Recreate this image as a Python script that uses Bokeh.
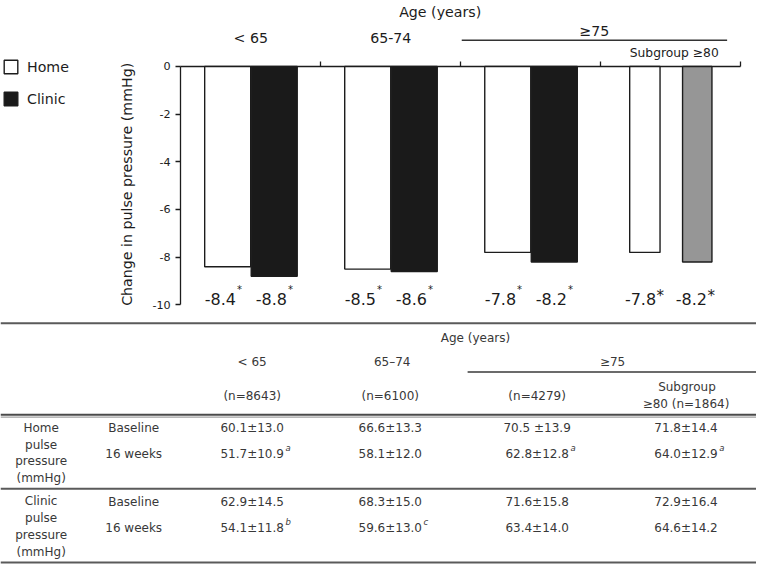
import math
from bokeh.plotting import figure
from bokeh.models import (Range1d, LinearAxis, FixedTicker, Legend, LegendItem,
                          ColumnDataSource)
from bokeh.core.properties import value
from bokeh.embed import file_html
from bokeh.resources import INLINE

# ---------------- data ----------------
groups = ["< 65", "65-74", "≥75", "Subgroup ≥80"]
home_change = [-8.4, -8.5, -7.8, -7.8]
clinic_change = [-8.8, -8.6, -8.2, -8.2]
home_labels = ["-8.4", "-8.5", "-7.8", "-7.8"]
clinic_labels = ["-8.8", "-8.6", "-8.2", "-8.2"]
mark_text = ["*", "*", "*", "*"]
mark_is_superscript = [True, True, True, False]
yticks = [0, -2, -4, -6, -8, -10]
ytick_labels = ["0", "-2", "-4", "-6", "-8", "-10"]
y_title = "Change in pulse pressure (mmHg)"
x_title = "Age (years)"

tbl_age_groups = ["< 65", "65–74", "≥75"]
tbl_n = ["(n=8643)", "(n=6100)", "(n=4279)"]
tbl_sub_head = ["Subgroup", "≥80 (n=1864)"]
tbl_time = ["Baseline", "16 weeks"]
tbl_home_label = ["Home", "pulse", "pressure", "(mmHg)"]
tbl_clinic_label = ["Clinic", "pulse", "pressure", "(mmHg)"]
home_baseline = ["60.1±13.0", "66.6±13.3", "70.5 ±13.9", "71.8±14.4"]
home_16w = ["51.7±10.9", "58.1±12.0", "62.8±12.8", "64.0±12.9"]
home_16w_sup = ["a", "", "a", "a"]
clinic_baseline = ["62.9±14.5", "68.3±15.0", "71.6±15.8", "72.9±16.4"]
clinic_16w = ["54.1±11.8", "59.6±13.0", "63.4±14.0", "64.6±14.2"]
clinic_16w_sup = ["b", "c", "", ""]

# ---------------- layout constants (reference pixel space) ----------------
W, H = 756, 564
X0, X1 = 0, 772
Y0, Y1 = 0, 580
AX_X = 184.0
STEP = 143.0
Y_ZERO = 67.7
PX_PER_UNIT = 24.53
FONT = value("DejaVu Sans")
DARK = "#1c1c1c"
GREY_TXT = "#383838"

centers = [AX_X + STEP * (i + 0.5) for i in range(len(groups))]
home_off = [-23.5, -23.5, -23.5, -26.5]
home_w = [47, 47, 47, 31]
clin_off = [24, 24, 24, 27]
clin_w = [47, 47, 47, 30]

p = figure(width=W, height=H, output_backend="svg", toolbar_location=None,
           x_range=Range1d(X0, X1), y_range=Range1d(Y1, Y0),
           x_axis_location=None, y_axis_location=None, min_border=0)
p.outline_line_color = None
p.xgrid.visible = False
p.ygrid.visible = False
p.background_fill_color = "white"
p.border_fill_color = "white"

# value range calibrated to the frame
p.extra_y_ranges = {"val": Range1d((Y_ZERO - Y1) / PX_PER_UNIT,
                                   (Y_ZERO - Y0) / PX_PER_UNIT)}

# ---------------- bars ----------------
hsrc = ColumnDataSource(dict(x=[c + o for c, o in zip(centers, home_off)],
                             w=home_w, top=[0] * 4, bottom=home_change))
r_home = p.vbar(x="x", width="w", top="top", bottom="bottom", source=hsrc,
                y_range_name="val", fill_color="white", line_color=DARK,
                line_width=1.4)
csrc = ColumnDataSource(dict(x=[c + o for c, o in zip(centers[:3], clin_off[:3])],
                             w=clin_w[:3], top=[0] * 3, bottom=clinic_change[:3]))
r_clin = p.vbar(x="x", width="w", top="top", bottom="bottom", source=csrc,
                y_range_name="val", fill_color="#1a1a1a", line_color=DARK,
                line_width=1.4)
ssrc = ColumnDataSource(dict(x=[centers[3] + clin_off[3]], w=[clin_w[3]],
                             top=[0], bottom=[clinic_change[3]]))
p.vbar(x="x", width="w", top="top", bottom="bottom", source=ssrc,
       y_range_name="val", fill_color="#969696", line_color=DARK, line_width=1.4)

# ---------------- axes ----------------
yaxis = LinearAxis(y_range_name="val", fixed_location=AX_X, bounds=(-10, 0),
                   ticker=FixedTicker(ticks=yticks),
                   major_label_overrides={t: l for t, l in zip(yticks, ytick_labels)})
yaxis.axis_line_color = DARK
yaxis.axis_line_width = 1.3
yaxis.major_tick_line_color = DARK
yaxis.major_tick_line_width = 1.3
yaxis.major_tick_out = 5
yaxis.major_tick_in = 0
yaxis.minor_tick_out = 0
yaxis.minor_tick_in = 0
yaxis.major_label_text_font = "DejaVu Sans"
yaxis.major_label_text_font_size = "11.2px"
yaxis.major_label_text_color = DARK
yaxis.major_label_standoff = 5
p.add_layout(yaxis, "left")

bounds_x = [AX_X + STEP * i for i in range(len(groups) + 1)]
taxis = LinearAxis(y_range_name="val", fixed_location=0,
                   bounds=(bounds_x[0], bounds_x[-1]),
                   ticker=FixedTicker(ticks=bounds_x[1:]))
taxis.axis_line_color = DARK
taxis.axis_line_width = 1.3
taxis.major_tick_line_color = DARK
taxis.major_tick_line_width = 1.3
taxis.major_tick_out = 5
taxis.major_tick_in = 0
taxis.minor_tick_out = 0
taxis.minor_tick_in = 0
taxis.major_label_text_color = None
p.add_layout(taxis, "above")

# ---------------- chart texts ----------------
def txt(x, y, s, size, color=DARK, align="center", angle=0.0, style="normal"):
    p.text(x=x, y=y, text=s, text_font=FONT, text_font_size=size,
           text_color=color, text_align=align, text_baseline="middle",
           angle=angle, text_font_style=style)

CH = "14.2px"
txt([449], [12], [x_title], CH)
txt(centers[:2], [39, 39], groups[:2], CH)
line_l, line_r = bounds_x[2] + 1, 742
txt([(line_l + line_r) / 2], [31], [groups[2]], CH)
p.segment(x0=[line_l], y0=[41], x1=[line_r], y1=[41], line_color="#333333",
          line_width=1.5)
txt([688], [54], [groups[3]], "12.3px")
txt([129], [189], [y_title], CH, angle=math.pi / 2)

# value labels below bars
lab_y = 307
hx = [c - 15 for c in centers]
cx = [c + 37 for c in centers]
txt(hx, [lab_y] * 4, home_labels, "16px", align="right")
txt(cx, [lab_y] * 4, clinic_labels, "16px", align="right")
for xs in (hx, cx):
    for i in range(4):
        if mark_is_superscript[i]:
            txt([xs[i] + 1], [lab_y - 10], [mark_text[i]], "10px", align="left")
        else:
            txt([xs[i] + 0.5], [lab_y - 3], [mark_text[i]], "15px", align="left")

# legend
legend = Legend(items=[LegendItem(label="Home", renderers=[r_home]),
                       LegendItem(label="Clinic", renderers=[r_clin])],
                location=(2, 457), orientation="vertical")
legend.glyph_width = 17
legend.glyph_height = 17
legend.label_height = 17
legend.label_width = 40
legend.spacing = 15
legend.padding = 0
legend.margin = 0
legend.label_standoff = 8
legend.label_text_font = "DejaVu Sans"
legend.label_text_font_size = CH
legend.label_text_color = DARK
legend.border_line_color = None
legend.background_fill_alpha = 0
p.add_layout(legend)

# ---------------- table ----------------
T = "12px"
col_c = [257, 398, 548, 700]
def hline(y, x0=X0, x1=X1, color="#5a5a5a", w=2.0):
    p.segment(x0=[x0], y0=[y], x1=[x1], y1=[y], line_color=color, line_width=w)

hline(332)
hline(426, color="#4a4a4a", w=2.0)
hline(428.5, color="#a0a0a0", w=1.2)
hline(502)
hline(578)
hline(382, x0=477, color="#3a3a3a", w=1.5)

txt([485], [347], [x_title], T, GREY_TXT)
txt([257, 400, 625], [372] * 3, tbl_age_groups, T, GREY_TXT)
txt(col_c[:3], [407] * 3, tbl_n, T, GREY_TXT)
txt([701, 700], [397, 415], tbl_sub_head, T, GREY_TXT)

txt([41.5] * 4, [440, 457, 474, 491], tbl_home_label, T, GREY_TXT)
txt([41.5] * 4, [515, 532, 550, 567], tbl_clinic_label, T, GREY_TXT)
txt([136, 136], [440, 466], tbl_time, T, GREY_TXT)
txt([136, 136], [516, 542], tbl_time, T, GREY_TXT)

txt(col_c, [440] * 4, home_baseline, T, GREY_TXT)
txt(col_c, [466] * 4, home_16w, T, GREY_TXT)
txt(col_c, [516] * 4, clinic_baseline, T, GREY_TXT)
txt(col_c, [542] * 4, clinic_16w, T, GREY_TXT)
for row_y, sups in ((466, home_16w_sup), (542, clinic_16w_sup)):
    for c, s in zip(col_c, sups):
        if s:
            txt([c + 34], [row_y - 6], [s], "8.5px", GREY_TXT, align="left",
                style="italic")

open("out.html", "w").write(file_html(p, INLINE))
